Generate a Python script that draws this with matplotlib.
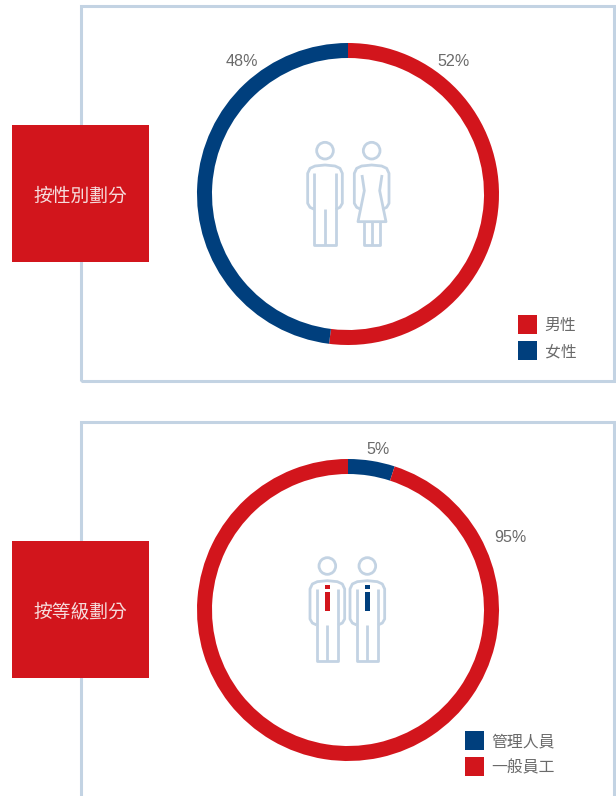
import matplotlib
matplotlib.use("Agg")
import matplotlib.pyplot as plt
from matplotlib.patches import Rectangle, Circle
from matplotlib.path import Path
from matplotlib.patches import PathPatch

plt.rcParams['font.family'] = ['Noto Sans CJK TC', 'DejaVu Sans']

RED = '#d2151c'
BLUE = '#003f7d'
LINE = '#c3d3e3'
GREY = '#6a6a6a'
ICON_LW = 2.0

# Chart data
gender_labels = ['男性', '女性']
gender_shares = [52, 48]
gender_colors = [RED, BLUE]
gender_title = '按性別劃分'

grade_labels = ['管理人員', '一般員工']
grade_shares = [5, 95]
grade_colors = [BLUE, RED]
grade_title = '按等級劃分'

W, H = 616, 796
fig = plt.figure(figsize=(W / 100, H / 100), dpi=100, facecolor='white')

# Full-figure layer in pixel units for panels, icons and text
bg = fig.add_axes([0, 0, 1, 1], zorder=1)
bg.set_xlim(0, W)
bg.set_ylim(H, 0)
bg.axis('off')
top = fig.add_axes([0, 0, 1, 1], zorder=3)
top.set_xlim(0, W)
top.set_ylim(H, 0)
top.axis('off')
top.patch.set_alpha(0)


def donut(cx, cy, shares, colors, radius=151, ring=15):
    ax = fig.add_axes([(cx - radius) / W, 1 - (cy + radius) / H,
                       2 * radius / W, 2 * radius / H], zorder=2)
    ax.pie(shares, colors=colors, startangle=90, counterclock=False, radius=1,
           wedgeprops=dict(width=ring / radius, linewidth=0))
    ax.set_xlim(-1, 1)
    ax.set_ylim(-1, 1)
    ax.patch.set_alpha(0)


def panel_frame(y0, y1, closed):
    verts = [(81, y1), (81, y0), (614, y0), (614, y1)]
    codes = [Path.MOVETO, Path.LINETO, Path.LINETO, Path.LINETO]
    if closed:
        verts = verts + [(81, y1)]
        codes = codes + [Path.LINETO]
    bg.add_patch(PathPatch(Path(verts, codes), fill=False, ec=LINE, lw=2.2,
                           joinstyle='miter', capstyle='butt'))


def title_box(y, text):
    top.add_patch(Rectangle((12, y), 137, 137, fc=RED, ec='none'))
    top.text(80, y + 71, text, color='#f6dcdc', fontsize=13.5,
             ha='center', va='center')


def legend(x, y, labels, colors):
    for i, (lab, col) in enumerate(zip(labels, colors)):
        yy = y + i * 26
        top.add_patch(Rectangle((x, yy), 19, 19, fc=col, ec='none'))
        top.text(x + 26.5, yy + 10.5, lab, color=GREY, fontsize=11.4,
                 ha='left', va='center')


def percent(x, y, value):
    top.text(x, y, f'{value}%', color=GREY, fontsize=11.6, ha='center',
             va='center', family='Liberation Sans')


def stroke(points, ox, oy):
    pts = [(ox + px / 3, oy + py / 3) for px, py in points]
    xs, ys = zip(*pts)
    top.plot(xs, ys, color=LINE, lw=ICON_LW, solid_joinstyle='round',
             solid_capstyle='butt')


def head(x, y, ox, oy, r=25):
    top.add_patch(Circle((ox + x / 3, oy + y / 3), r / 3, fc='none', ec=LINE, lw=ICON_LW))


def shoulders(dx, dy, ox, oy):
    outline = [(20, 133), (7, 127), (0, 115), (0, 25), (7, 10), (22, 3), (52, 0),
               (82, 3), (97, 10), (104, 25), (104, 115), (97, 127), (84, 133)]
    stroke([(px + dx, py + dy) for px, py in outline], ox, oy)


def man_figure(dx, dy, ox, oy, inner_top=25):
    shoulders(dx, dy, ox, oy)
    stroke([(20 + dx, inner_top + dy), (20 + dx, 240 + dy), (84 + dx, 240 + dy),
            (84 + dx, inner_top + dy)], ox, oy)
    stroke([(52 + dx, 133 + dy), (52 + dx, 240 + dy)], ox, oy)


def woman_figure(dx, dy, ox, oy):
    shoulders(dx, dy, ox, oy)
    stroke([(23 + dx, 30 + dy), (30 + dx, 77 + dy), (11 + dx, 170 + dy),
            (95 + dx, 170 + dy), (76 + dx, 77 + dy), (83 + dx, 30 + dy)], ox, oy)
    stroke([(28 + dx, 170 + dy), (28 + dx, 240 + dy), (78 + dx, 240 + dy),
            (78 + dx, 170 + dy)], ox, oy)
    stroke([(53 + dx, 170 + dy), (53 + dx, 240 + dy)], ox, oy)


def tie(dx, dy, ox, oy, color):
    top.add_patch(Rectangle((ox + (dx + 44) / 3, oy + (dy + 12) / 3), 16 / 3, 14 / 3,
                            fc=color, ec='none'))
    top.add_patch(Rectangle((ox + (dx + 44) / 3, oy + (dy + 34) / 3), 16 / 3, 57 / 3,
                            fc=color, ec='none'))


# Upper panel: breakdown by gender
panel_frame(6, 381, True)
donut(348, 194, gender_shares, gender_colors)
title_box(125, gender_title)
percent(242, 62, gender_shares[1])
percent(454, 62, gender_shares[0])
legend(518, 315, gender_labels, gender_colors)

head(135, 92, 280, 120)
man_figure(83, 135, 280, 120)
head(275, 92, 280, 120)
woman_figure(223, 135, 280, 120)

# Lower panel: breakdown by grade
panel_frame(422, 800, False)
donut(348, 610, grade_shares, grade_colors)
title_box(541, grade_title)
percent(378, 449, grade_shares[0])
percent(510, 537, grade_shares[1])
legend(465, 731, grade_labels, grade_colors)

head(142, 78, 280, 540)
man_figure(90, 122, 280, 540)
tie(90, 122, 280, 540, RED)
head(262, 78, 280, 540)
man_figure(210, 122, 280, 540)
tie(210, 122, 280, 540, BLUE)

fig.savefig('out.png', dpi=100, facecolor='white')
